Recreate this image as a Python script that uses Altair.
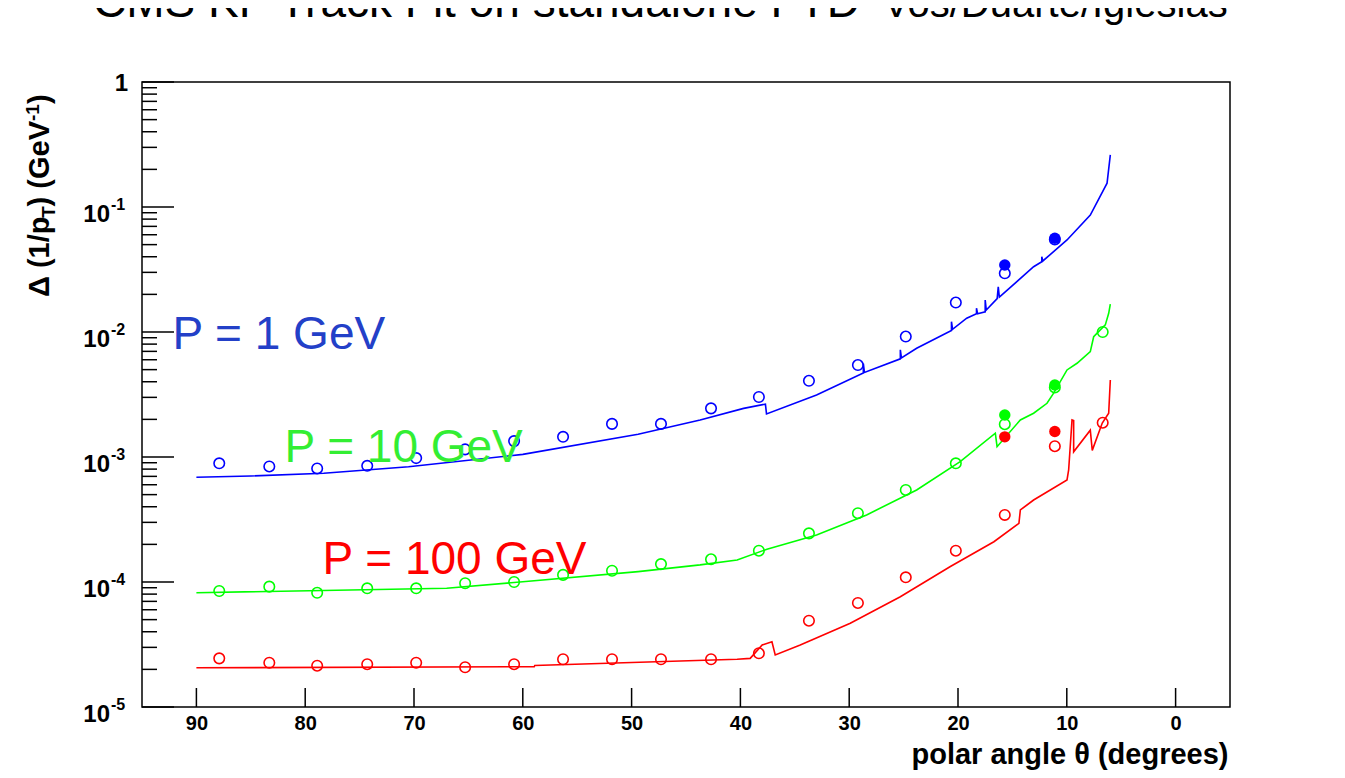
import altair as alt
import pandas as pd

# ---------------- text ----------------
TITLE_MAIN = "CMS KF Track Fit on standalone FTD"
TITLE_AUTHORS = "Vos/Duarte/Iglesias"
X_TITLE = "polar angle θ (degrees)"
SERIES = ["P = 1 GeV", "P = 10 GeV", "P = 100 GeV"]
LINE_COLORS = ["#0000ff", "#00ff00", "#ff0000"]
LABEL_COLORS = ["#2340c8", "#33ee33", "#ff0000"]

# label anchor positions (data coordinates)
label_theta = [92.2, 81.9, 78.4]
label_value = [7.31e-3, 9.17e-4, 1.16e-4]

# ---------------- simulation curves ----------------
blue_line_theta = [90.0, 85.0, 78.3, 70.5, 60.0, 49.4, 43.7, 39.7, 37.7, 37.6, 33.0,
                   28.7, 28.7, 28.6, 25.3, 25.3, 25.2, 23.8, 20.6, 20.6, 20.5, 19.2,
                   18.3, 18.3, 18.2, 17.5, 17.5, 17.4, 16.4, 16.3, 16.2, 13.05,
                   12.3, 12.3, 12.2, 9.98, 7.84, 6.3, 6.0]
blue_line_value = [6.88e-4, 7.05e-4, 7.41e-4, 8.36e-4, 1.05e-3, 1.52e-3, 1.98e-3, 2.45e-3, 2.65e-3, 2.21e-3, 3.13e-3,
                   4.70e-3, 5.60e-3, 4.75e-3, 6.10e-3, 7.20e-3, 6.20e-3, 7.41e-3, 1.03e-2, 1.21e-2, 1.05e-2, 1.29e-2,
                   1.40e-2, 1.55e-2, 1.40e-2, 1.45e-2, 1.80e-2, 1.50e-2, 1.85e-2, 2.30e-2, 1.90e-2, 3.33e-2,
                   3.65e-2, 4.00e-2, 3.70e-2, 5.45e-2, 8.63e-2, 0.155, 0.261]

green_line_theta = [90.0, 67.0, 60.0, 49.4, 43.7, 40.3, 37.56, 33.0, 28.4, 23.8, 19.8,
                    16.57, 16.41, 14.27, 13.05, 11.82, 11.21, 9.98, 9.06, 7.84, 7.53,
                    6.92, 6.46, 6.15, 6.0]
green_line_value = [8.21e-5, 8.91e-5, 1.005e-4, 1.21e-4, 1.37e-4, 1.50e-4, 1.83e-4, 2.38e-4, 3.44e-4, 5.45e-4, 9.17e-4,
                    1.55e-3, 1.21e-3, 1.98e-3, 2.24e-3, 2.69e-3, 3.24e-3, 4.97e-3, 5.62e-3, 6.96e-3, 9.17e-3,
                    1.04e-2, 1.14e-2, 1.41e-2, 1.67e-2]

red_line_theta = [90.0, 58.95, 58.9, 40.3, 39.1, 38.0, 37.1, 36.8, 34.5, 29.9, 25.3, 20.7,
                  16.7, 14.4, 14.27, 13.05, 9.98, 9.83, 9.52, 9.37, 9.37, 7.84, 7.66,
                  6.74, 6.15, 6.0]
red_line_value = [2.06e-5, 2.10e-5, 2.15e-5, 2.41e-5, 2.45e-5, 3.13e-5, 3.33e-5, 2.61e-5, 3.13e-5, 4.68e-5, 7.63e-5, 1.33e-4,
                  2.10e-4, 2.95e-4, 3.77e-4, 4.53e-4, 6.55e-4, 7.87e-4, 1.98e-3, 1.96e-3, 1.10e-3, 1.64e-3, 1.13e-3,
                  1.87e-3, 2.24e-3, 4.13e-3]

# ---------------- measured points (open circles) ----------------
point_theta = [87.9, 83.3, 78.9, 74.3, 69.8, 65.3, 60.8, 56.3, 51.8, 47.3, 42.7,
               38.3, 33.7, 29.2, 24.8, 20.2, 15.7, 11.1, 6.7]
blue_open = [8.9e-4, 8.4e-4, 8.1e-4, 8.5e-4, 9.8e-4, 1.15e-3, 1.34e-3, 1.45e-3, 1.84e-3, 1.84e-3, 2.45e-3,
             3.02e-3, 4.07e-3, 5.44e-3, 9.2e-3, 1.72e-2, 2.95e-2, 5.5e-2]
green_open = [8.47e-5, 9.18e-5, 8.2e-5, 8.9e-5, 8.9e-5, 9.77e-5, 1.0e-4, 1.14e-4, 1.23e-4, 1.39e-4, 1.52e-4,
              1.78e-4, 2.45e-4, 3.55e-4, 5.45e-4, 8.9e-4, 1.83e-3, 3.6e-3, 1.0e-2]
red_open = [2.45e-5, 2.26e-5, 2.14e-5, 2.2e-5, 2.26e-5, 2.08e-5, 2.2e-5, 2.41e-5, 2.41e-5, 2.41e-5, 2.41e-5,
            2.69e-5, 4.9e-5, 6.8e-5, 1.09e-4, 1.78e-4, 3.44e-4, 1.22e-3, 1.88e-3]

# ---------------- filled points ----------------
filled_theta = [15.7, 11.1]
blue_filled = [3.44e-2, 5.62e-2]
green_filled = [2.17e-3, 3.77e-3]
red_filled = [1.45e-3, 1.6e-3]

# ---------------- axis ticks ----------------
x_ticks = [90, 80, 70, 60, 50, 40, 30, 20, 10, 0]
y_major = [1e-5, 1e-4, 1e-3, 1e-2, 1e-1, 1.0]
y_minor = [m * 10.0 ** k for k in range(-5, 0) for m in range(2, 10)]
y_label_values = [1e-1, 1e-2, 1e-3, 1e-4, 1e-5]
y_label_exps = ["-1", "-2", "-3", "-4", "-5"]

# ---------------- tables ----------------
def series_rows(name, th, vals):
    return [dict(series=name, theta=t, value=v, order=i) for i, (t, v) in enumerate(zip(th, vals))]

lines_df = pd.DataFrame(
    series_rows(SERIES[0], blue_line_theta, blue_line_value)
    + series_rows(SERIES[1], green_line_theta, green_line_value)
    + series_rows(SERIES[2], red_line_theta, red_line_value)
)
open_df = pd.DataFrame(
    series_rows(SERIES[0], point_theta, blue_open)
    + series_rows(SERIES[1], point_theta, green_open)
    + series_rows(SERIES[2], point_theta, red_open)
)
filled_df = pd.DataFrame(
    series_rows(SERIES[0], filled_theta, blue_filled)
    + series_rows(SERIES[1], filled_theta, green_filled)
    + series_rows(SERIES[2], filled_theta, red_filled)
)

FONT = "Liberation Sans"
x_scale = alt.Scale(domain=[-5, 95], reverse=True, nice=False, zero=False)
y_scale = alt.Scale(type="log", domain=[1e-5, 1], nice=False)
color = alt.Color("series:N", scale=alt.Scale(domain=SERIES, range=LINE_COLORS), legend=None)

x_axis = alt.Axis(values=x_ticks, format="d", ticks=False, tickSize=0, domain=False, grid=False,
                  labelFont=FONT, labelFontSize=20, labelFontWeight="bold", labelColor="black",
                  labelBaseline="alphabetic", labelPadding=22, labelFlush=False, labelOverlap=False,
                  title=X_TITLE, titleFont=FONT, titleFontSize=29, titleFontWeight="bold",
                  titleColor="black", titleX=1086, titleY=56, titleAlign="right",
                  titleBaseline="alphabetic")

X = alt.X("theta:Q", scale=x_scale, axis=x_axis)
Y = alt.Y("value:Q", scale=y_scale, axis=None)

lines = alt.Chart(lines_df).mark_line(strokeWidth=1.6).encode(
    x=X, y=Y, color=color, order=alt.Order("order:Q"),
)

open_pts = alt.Chart(open_df).mark_point(shape="circle", filled=False, size=110, strokeWidth=1.6, opacity=1).encode(
    x=X, y=Y, color=color,
)

filled_pts = alt.Chart(filled_df).mark_circle(size=130, opacity=1).encode(
    x=X, y=Y, color=color,
)

# ticks drawn inside the frame (ROOT style)
x_tick_rules = alt.Chart(pd.DataFrame({"theta": x_ticks})).mark_rule(color="black", strokeWidth=1.5).encode(
    x=X, y=alt.value(625), y2=alt.value(606))
y_major_rules = alt.Chart(pd.DataFrame({"value": y_major})).mark_rule(color="black", strokeWidth=1.5).encode(
    y=Y, x=alt.value(0), x2=alt.value(32))
y_minor_rules = alt.Chart(pd.DataFrame({"value": y_minor})).mark_rule(color="black", strokeWidth=1.5).encode(
    y=Y, x=alt.value(0), x2=alt.value(15))

ylab_df = pd.DataFrame({"value": y_label_values, "base": ["10"] * 5, "exp": y_label_exps})
ylab_base = alt.Chart(ylab_df).mark_text(align="right", baseline="alphabetic", fontSize=24,
                                         fontWeight="bold", font=FONT, color="black", dy=15).encode(
    y=Y, x=alt.value(-32), text="base:N")
ylab_exp = alt.Chart(ylab_df).mark_text(align="left", baseline="alphabetic", fontSize=16,
                                        fontWeight="bold", font=FONT, color="black", dy=3).encode(
    y=Y, x=alt.value(-31), text="exp:N")
ylab_one = alt.Chart(pd.DataFrame({"value": [1.0], "t": ["1"]})).mark_text(
    align="right", baseline="alphabetic", fontSize=24, fontWeight="bold", font=FONT, color="black", dy=9).encode(
    y=Y, x=alt.value(-14), text="t:N")

# series labels
label_layers = []
for name, th, v, c in zip(SERIES, label_theta, label_value, LABEL_COLORS):
    label_layers.append(
        alt.Chart(pd.DataFrame({"theta": [th], "value": [v], "t": [name]})).mark_text(
            align="left", baseline="alphabetic", fontSize=46, font=FONT, color=c).encode(
            x=X, y=Y, text="t:N")
    )

# y-axis title pieces (rotated, with sub/superscripts)
def piece(txt, x, y, size, angle=270, align="left"):
    return alt.Chart(pd.DataFrame({"t": [txt]})).mark_text(
        angle=angle, align=align, baseline="alphabetic", fontSize=size, fontWeight="bold",
        font=FONT, color="black").encode(x=alt.value(x), y=alt.value(y), text="t:N")

ytitle = [
    piece("Δ (1/p", -93, 215, 29),
    piece("T", -87, 136, 19),
    piece(") (GeV", -93, 124.4, 29),
    piece("-1", -103, 39, 19),
    piece(")", -93, 22.1, 29),
]

# page title (cut off at the top, as in the reference)
def title_piece(txt, x, y, size):
    return alt.Chart(pd.DataFrame({"t": [txt]})).mark_text(
        align="left", baseline="alphabetic", fontSize=size, font=FONT, color="black").encode(
        x=alt.value(x), y=alt.value(y), text="t:N")

titles = [title_piece(TITLE_MAIN, -49, -65, 46), title_piece(TITLE_AUTHORS, 741, -65, 40)]

chart = alt.layer(
    lines, open_pts, filled_pts, x_tick_rules, y_major_rules, y_minor_rules,
    ylab_base, ylab_exp, ylab_one, *label_layers, *ytitle, *titles
).properties(
    width=1088, height=625,
    padding={"left": 134, "top": 74, "right": 105, "bottom": 63},
    autosize=alt.AutoSizeParams(type="none"),
    background="white",
).configure(font=FONT).configure_view(stroke="black", strokeWidth=1.5)

chart.save("out.html", embed_options={"renderer": "svg", "actions": False})
